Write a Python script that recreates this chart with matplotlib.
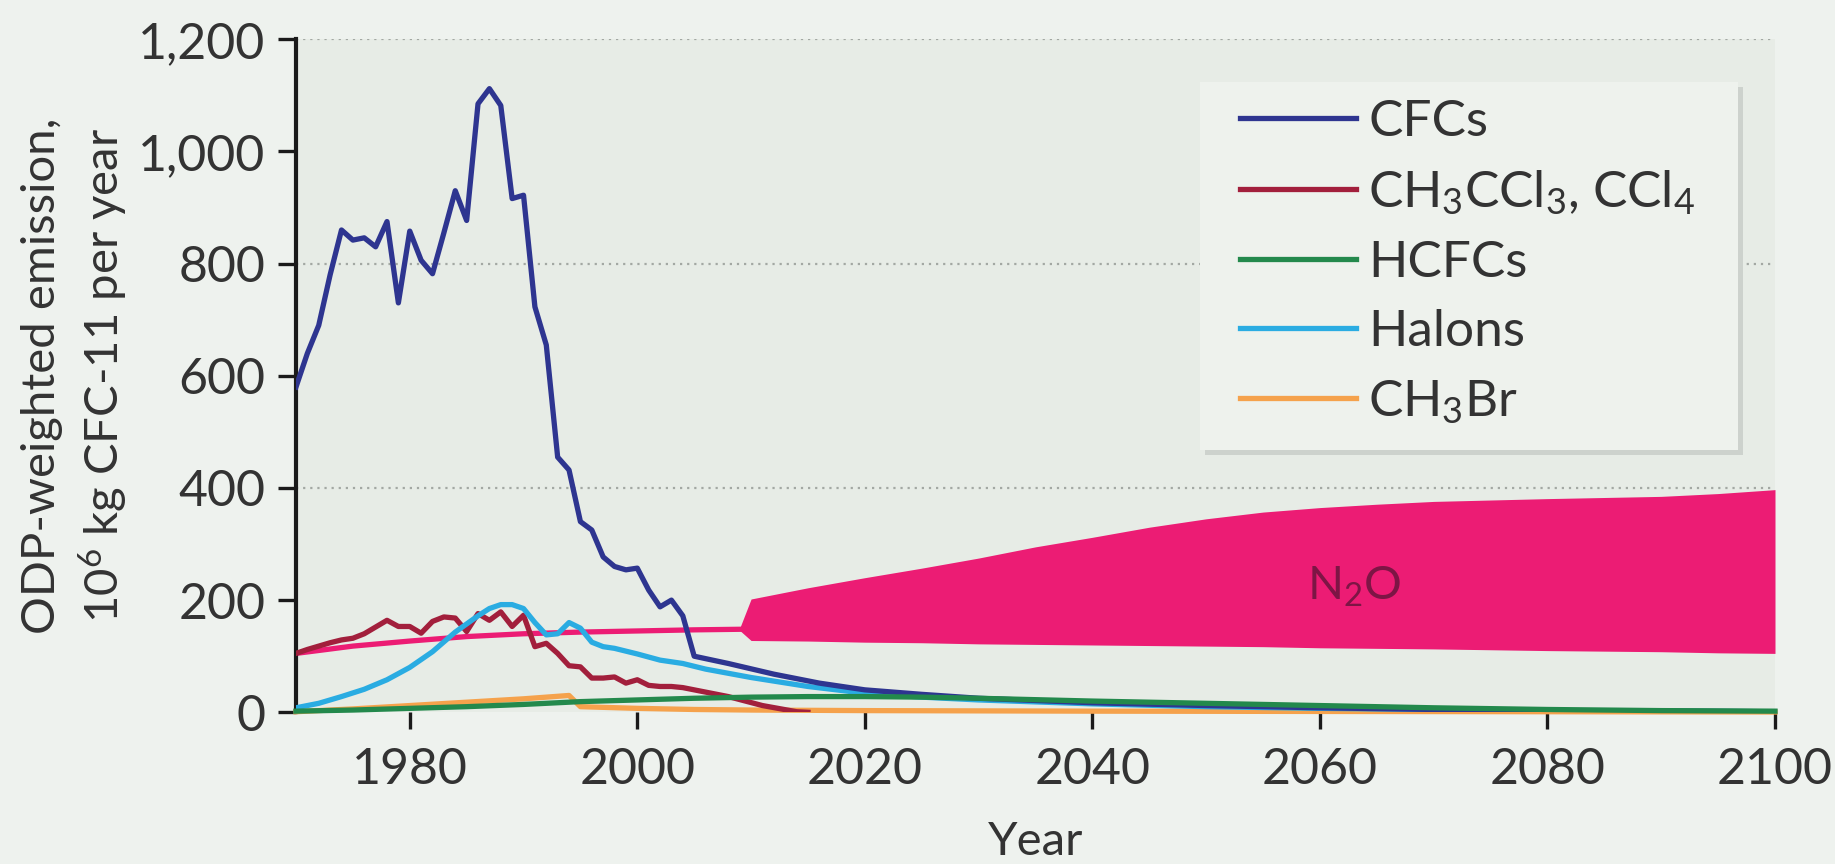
import matplotlib
matplotlib.use("Agg")
import matplotlib.pyplot as plt
from matplotlib.patches import Rectangle

plt.rcParams['font.family'] = ['Lato', 'DejaVu Sans']

# CFCs
cfc_years = list(range(1970, 2006)) + [2008, 2012, 2016, 2020, 2025, 2030, 2040, 2050, 2060, 2070, 2080, 2090, 2100]
cfc_vals = [580, 640, 690, 780, 860, 842, 846, 830, 875, 730,
            858, 806, 782, 855, 930, 877, 1085, 1112, 1082, 916,
            922, 723, 655, 455, 432, 340, 325, 277, 260, 254,
            257, 218, 188, 200, 172, 100,
            87, 68, 52, 40, 32, 25, 17, 12, 8, 5, 3, 2, 1]

# CH3CCl3, CCl4
mcf_years = list(range(1970, 2006)) + [2008, 2011, 2014, 2015]
mcf_vals = [105, 112, 118, 124, 129, 132, 140, 152, 164, 153,
            153, 141, 162, 170, 168, 144, 176, 164, 179, 153,
            173, 117, 123, 105, 83, 81, 61, 61, 63, 52,
            58, 48, 46, 46, 44, 40,
            28, 12, 1, 0]

# HCFCs
hcfc_years = [1970, 1975, 1980, 1985, 1990, 1995, 2000, 2005, 2010, 2015, 2020, 2025, 2030, 2040, 2050, 2060, 2070, 2080, 2090, 2100]
hcfc_vals = [2, 4, 7, 10, 14, 19, 22, 25, 27, 28, 28, 27, 25, 20, 16, 12, 8, 5, 3, 2]

# Halons
halon_years = [1970, 1972, 1974, 1976, 1978, 1980, 1982, 1984, 1986, 1987, 1988, 1989, 1990, 1991, 1992, 1993, 1994, 1995,
               1996, 1997, 1998, 2000, 2002, 2004, 2006, 2010, 2015, 2020, 2025, 2030, 2040, 2050, 2060, 2070, 2080, 2090, 2100]
halon_vals = [8, 16, 28, 41, 58, 80, 108, 143, 172, 185, 192, 192, 185, 160, 138, 140, 160, 150,
              125, 117, 114, 104, 93, 87, 77, 62, 46, 34, 27, 22, 15, 10, 7, 5, 3, 2, 1]

# CH3Br
mbr_years = [1970, 1975, 1980, 1985, 1990, 1994, 1995, 2000, 2005, 2010, 2020, 2040, 2060, 2080, 2100]
mbr_vals = [1, 6, 12, 18, 24, 30, 10, 7, 5, 4, 3, 2, 1.5, 1, 0.5]

# N2O: single line up to 2009, then a scenario range
n2o_years = [1970, 1975, 1980, 1985, 1990, 1995, 2000, 2005, 2009]
n2o_vals = [105, 118, 127, 135, 140, 143, 145, 147, 148]
band_years = [2009, 2010, 2015, 2020, 2025, 2030, 2035, 2040, 2045, 2050, 2055, 2060, 2065, 2070, 2080, 2090, 2095, 2100]
band_high = [150, 202, 222, 240, 257, 275, 295, 312, 330, 345, 357, 365, 371, 376, 381, 385, 390, 397]
band_low = [146, 128, 127, 125, 124, 122, 121, 120, 119, 118, 117, 115, 114, 113, 110, 108, 106, 105]

x_ticks = [1980, 2000, 2020, 2040, 2060, 2080, 2100]
y_ticks = [0, 200, 400, 600, 800, 1000, 1200]
y_labels = ['0', '200', '400', '600', '800', '1,000', '1,200']

W, H = 1835, 864
fig = plt.figure(figsize=(W / 100, H / 100), dpi=100, facecolor='#eef2ee')
ax = fig.add_axes([0.1613, 0.1756, 0.806, 0.7789])
ax.set_facecolor('#e7ece6')

for gy in [400, 800, 1200]:
    ax.axhline(gy, color='#a3a8a3', lw=1.6, dashes=(1, 2.2), zorder=0)

lw = 3.8
n2o_col = '#ec1c74'
ax.plot(n2o_years, n2o_vals, color=n2o_col, lw=lw, zorder=2)
ax.fill_between(band_years, band_low, band_high, color=n2o_col, lw=0, zorder=2)
ax.text(2063, 224, r'N$\mathregular{_2}$O', color='#7d1545', fontsize=34, ha='center', va='center', zorder=6)

ax.plot(mbr_years, mbr_vals, color='#f5a24c', lw=lw, label=r'CH$\mathregular{_3}$Br', zorder=3, clip_on=False)
ax.plot(mcf_years, mcf_vals, color='#a21f3c', lw=lw,
        label=r'CH$\mathregular{_3}$CCl$\mathregular{_3}$, CCl$\mathregular{_4}$', zorder=4)
ax.plot(halon_years, halon_vals, color='#2aace2', lw=lw, label='Halons', zorder=4)
ax.plot(cfc_years, cfc_vals, color='#2e3590', lw=lw, label='CFCs', zorder=5)
ax.plot(hcfc_years, hcfc_vals, color='#23894c', lw=lw, label='HCFCs', zorder=5, clip_on=False)

ax.set_xlim(1970, 2100)
ax.set_ylim(0, 1200)
ax.set_xticks(x_ticks)
ax.set_yticks(y_ticks)
ax.set_yticklabels(y_labels)

for s in ['top', 'right', 'bottom']:
    ax.spines[s].set_visible(False)
ax.spines['left'].set_linewidth(3)
ax.spines['left'].set_color('#1a1a1a')
ax.tick_params(axis='y', length=13, width=2.4, color='#1a1a1a', pad=9, labelsize=36, labelcolor='#333333')
ax.tick_params(axis='x', length=12, width=2.4, color='#1a1a1a', pad=13, labelsize=36, labelcolor='#333333')

ax.set_ylabel('ODP-weighted emission,\n10$\\mathregular{^6}$ kg CFC-11 per year',
              fontsize=34, color='#333333', linespacing=1.3, va='center')
ax.yaxis.set_label_coords(-0.149, 0.5)
ax.set_xlabel('Year', fontsize=34, color='#333333', va='baseline')
ax.xaxis.set_label_coords(0.5, -0.212)

# legend box with a soft shadow
bx0, by0, bx1, by1 = 1200, 82, 1738, 450
fig.patches.append(Rectangle((bx0 / W + 5 / W, 1 - by1 / H - 5 / H), (bx1 - bx0) / W, (by1 - by0) / H,
                             transform=fig.transFigure, facecolor='#cdd2cd', edgecolor='none', zorder=5))
fig.patches.append(Rectangle((bx0 / W, 1 - by1 / H), (bx1 - bx0) / W, (by1 - by0) / H,
                             transform=fig.transFigure, facecolor='#eef2ed', edgecolor='none', zorder=5))

handles, labels = ax.get_legend_handles_labels()
order = [3, 1, 4, 2, 0]
leg = fig.legend([handles[i] for i in order], [labels[i] for i in order],
                 loc='upper left', bbox_to_anchor=(1240 / W, 1 - 99 / H),
                 fontsize=37, handlelength=2.25, handletextpad=0.25, labelspacing=0.45,
                 borderpad=0, borderaxespad=0, frameon=False)
leg.set_zorder(7)
for t in leg.get_texts():
    t.set_color('#333333')
for h in leg.get_lines():
    h.set_linewidth(3.8)

fig.savefig('out.png', dpi=100, facecolor=fig.get_facecolor())
